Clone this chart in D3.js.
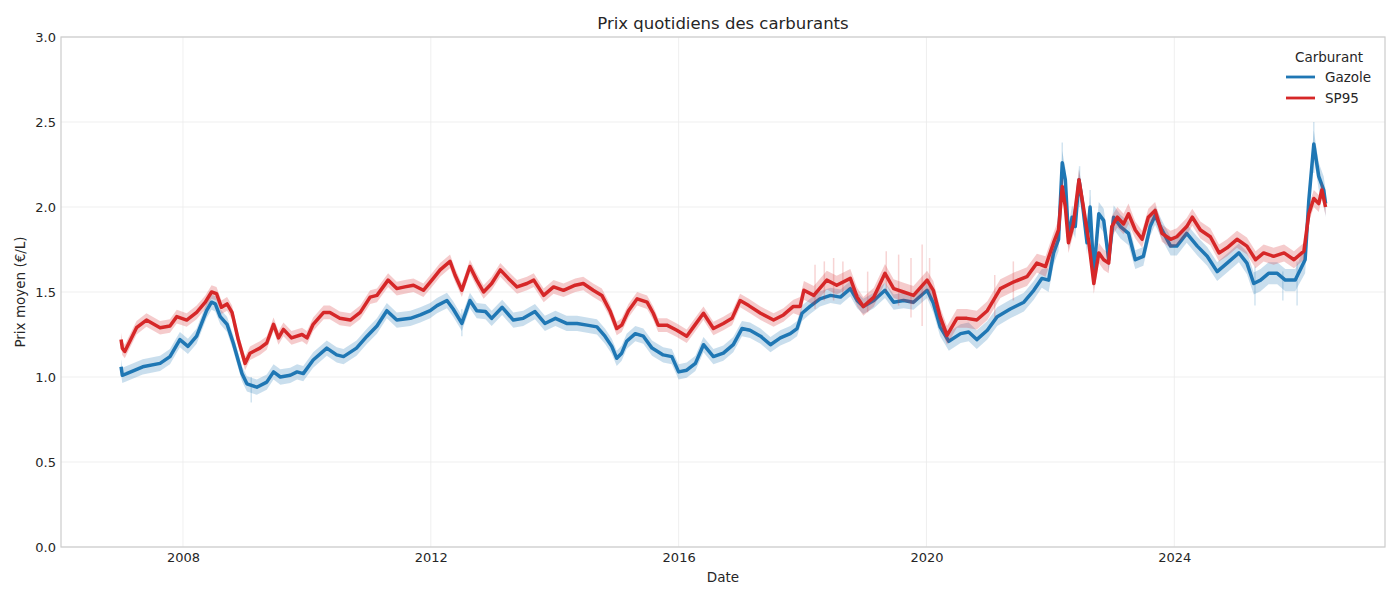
<!DOCTYPE html>
<html>
<head>
<meta charset="utf-8">
<script src="https://cdn.jsdelivr.net/npm/d3@7"></script>
<style>
  body { margin: 0; background: #fff; }
  svg { font-family: "DejaVu Sans", sans-serif; }
</style>
</head>
<body>
<div id="chart"></div>
<script>
// dates in decimal years, prices in €/L
const gazole = [
  [2007.00, 1.06], [2007.02, 1.01], [2007.09, 1.02], [2007.35, 1.06], [2007.63, 1.08], [2007.79, 1.12],
  [2007.95, 1.22], [2008.08, 1.18], [2008.22, 1.24], [2008.38, 1.39], [2008.46, 1.44], [2008.52, 1.43],
  [2008.60, 1.355], [2008.71, 1.31], [2008.81, 1.20], [2008.95, 1.02], [2009.03, 0.96], [2009.19, 0.94],
  [2009.35, 0.97], [2009.46, 1.03], [2009.57, 1.00], [2009.73, 1.01], [2009.84, 1.03], [2009.94, 1.02],
  [2010.10, 1.10], [2010.32, 1.17], [2010.48, 1.13], [2010.59, 1.12], [2010.80, 1.17], [2010.97, 1.24],
  [2011.13, 1.30], [2011.29, 1.39], [2011.45, 1.335], [2011.67, 1.345], [2011.83, 1.365], [2011.99, 1.39],
  [2012.10, 1.42], [2012.26, 1.45], [2012.36, 1.40], [2012.50, 1.315], [2012.63, 1.45], [2012.74, 1.39],
  [2012.88, 1.385], [2012.98, 1.345], [2013.15, 1.41], [2013.33, 1.335], [2013.49, 1.345], [2013.68, 1.385],
  [2013.84, 1.315], [2014.01, 1.345], [2014.19, 1.315], [2014.36, 1.315], [2014.52, 1.305], [2014.68, 1.295],
  [2014.81, 1.24], [2014.92, 1.18], [2015.00, 1.11], [2015.08, 1.14], [2015.16, 1.21], [2015.30, 1.255],
  [2015.43, 1.24], [2015.57, 1.17], [2015.75, 1.13], [2015.89, 1.12], [2016.00, 1.03], [2016.13, 1.04],
  [2016.27, 1.08], [2016.40, 1.19], [2016.56, 1.12], [2016.72, 1.14], [2016.88, 1.19], [2017.02, 1.285],
  [2017.15, 1.275], [2017.32, 1.24], [2017.48, 1.19], [2017.64, 1.23], [2017.80, 1.255], [2017.91, 1.285],
  [2017.99, 1.375], [2018.12, 1.415], [2018.28, 1.46], [2018.45, 1.48], [2018.61, 1.47], [2018.77, 1.52],
  [2018.88, 1.45], [2018.98, 1.415], [2019.15, 1.45], [2019.33, 1.51], [2019.47, 1.44], [2019.63, 1.45],
  [2019.79, 1.44], [2020.01, 1.51], [2020.11, 1.435], [2020.22, 1.295], [2020.36, 1.21], [2020.55, 1.255],
  [2020.68, 1.265], [2020.81, 1.22], [2020.98, 1.275], [2021.14, 1.355], [2021.35, 1.40], [2021.57, 1.44],
  [2021.73, 1.51], [2021.86, 1.58], [2021.97, 1.57], [2022.05, 1.73], [2022.13, 1.81], [2022.19, 2.26],
  [2022.24, 2.16], [2022.29, 1.825], [2022.35, 1.94], [2022.40, 1.885], [2022.46, 2.16], [2022.51, 2.04],
  [2022.59, 1.79], [2022.64, 2.00], [2022.70, 1.61], [2022.78, 1.96], [2022.86, 1.92], [2022.94, 1.69],
  [2023.02, 1.94], [2023.13, 1.885], [2023.26, 1.845], [2023.37, 1.69], [2023.50, 1.71], [2023.61, 1.885],
  [2023.69, 1.95], [2023.80, 1.865], [2023.94, 1.77], [2024.04, 1.77], [2024.20, 1.845], [2024.37, 1.77],
  [2024.53, 1.71], [2024.69, 1.62], [2024.85, 1.67], [2025.04, 1.73], [2025.17, 1.67], [2025.28, 1.55],
  [2025.39, 1.57], [2025.52, 1.61], [2025.66, 1.61], [2025.79, 1.57], [2025.95, 1.57], [2026.11, 1.69],
  [2026.17, 2.04], [2026.25, 2.37], [2026.33, 2.18], [2026.41, 2.10], [2026.44, 2.02]
];

const sp95 = [
  [2007.00, 1.22], [2007.02, 1.17], [2007.06, 1.15], [2007.25, 1.29], [2007.41, 1.335], [2007.63, 1.29],
  [2007.79, 1.30], [2007.90, 1.355], [2008.06, 1.335], [2008.22, 1.38], [2008.36, 1.44], [2008.46, 1.50],
  [2008.54, 1.49], [2008.62, 1.41], [2008.71, 1.43], [2008.79, 1.38], [2008.89, 1.22], [2009.00, 1.08],
  [2009.08, 1.14], [2009.24, 1.17], [2009.35, 1.20], [2009.46, 1.31], [2009.54, 1.23], [2009.62, 1.28],
  [2009.75, 1.23], [2009.92, 1.25], [2010.00, 1.23], [2010.10, 1.31], [2010.27, 1.38], [2010.37, 1.38],
  [2010.53, 1.345], [2010.70, 1.335], [2010.86, 1.38], [2011.02, 1.47], [2011.13, 1.48], [2011.31, 1.57],
  [2011.45, 1.52], [2011.58, 1.53], [2011.72, 1.54], [2011.88, 1.51], [2012.04, 1.58], [2012.15, 1.63],
  [2012.31, 1.68], [2012.39, 1.60], [2012.50, 1.51], [2012.63, 1.65], [2012.74, 1.57], [2012.85, 1.50],
  [2012.98, 1.55], [2013.12, 1.63], [2013.25, 1.58], [2013.39, 1.53], [2013.55, 1.55], [2013.66, 1.57],
  [2013.82, 1.48], [2013.98, 1.53], [2014.14, 1.51], [2014.33, 1.54], [2014.46, 1.55], [2014.62, 1.51],
  [2014.76, 1.48], [2014.89, 1.39], [2015.00, 1.285], [2015.08, 1.305], [2015.19, 1.39], [2015.33, 1.46],
  [2015.49, 1.44], [2015.59, 1.375], [2015.67, 1.305], [2015.81, 1.305], [2015.97, 1.275], [2016.13, 1.24],
  [2016.24, 1.295], [2016.40, 1.375], [2016.56, 1.285], [2016.72, 1.315], [2016.86, 1.345], [2016.99, 1.45],
  [2017.13, 1.42], [2017.32, 1.375], [2017.53, 1.335], [2017.69, 1.365], [2017.85, 1.415], [2017.96, 1.415],
  [2018.02, 1.51], [2018.18, 1.48], [2018.39, 1.57], [2018.55, 1.54], [2018.77, 1.58], [2018.88, 1.47],
  [2018.98, 1.415], [2019.15, 1.47], [2019.33, 1.61], [2019.47, 1.52], [2019.63, 1.50], [2019.79, 1.48],
  [2020.01, 1.57], [2020.11, 1.51], [2020.22, 1.355], [2020.33, 1.245], [2020.49, 1.345], [2020.65, 1.345],
  [2020.81, 1.335], [2020.98, 1.39], [2021.19, 1.52], [2021.41, 1.56], [2021.62, 1.59], [2021.78, 1.67],
  [2021.92, 1.65], [2022.05, 1.79], [2022.13, 1.865], [2022.19, 2.12], [2022.24, 2.00], [2022.29, 1.79],
  [2022.37, 1.90], [2022.46, 2.16], [2022.54, 1.98], [2022.62, 1.79], [2022.70, 1.55], [2022.78, 1.73],
  [2022.86, 1.69], [2022.94, 1.67], [2022.99, 1.885], [2023.08, 1.94], [2023.18, 1.90], [2023.26, 1.96],
  [2023.37, 1.865], [2023.48, 1.81], [2023.58, 1.94], [2023.69, 1.98], [2023.80, 1.845], [2023.94, 1.81],
  [2024.04, 1.825], [2024.20, 1.885], [2024.29, 1.94], [2024.42, 1.865], [2024.58, 1.825], [2024.72, 1.73],
  [2024.85, 1.76], [2025.01, 1.81], [2025.17, 1.77], [2025.31, 1.69], [2025.44, 1.73], [2025.60, 1.71],
  [2025.77, 1.73], [2025.93, 1.69], [2026.09, 1.74], [2026.17, 1.96], [2026.25, 2.05], [2026.33, 2.02],
  [2026.38, 2.10], [2026.44, 2.00]
];

// half-width of the shaded band, from a given year on
const gazoleSpread = [[2007, 0.045], [2020.1, 0.055], [2021.9, 0.07], [2023.3, 0.055], [2025.1, 0.065], [2026.1, 0.08]];
const sp95Spread = [[2007, 0.04], [2017.9, 0.055], [2021.9, 0.06], [2023.3, 0.05]];

// isolated daily extremes (year, low, high)
const gazoleSpikes = [
  [2009.10, 0.85, 1.00], [2012.50, 1.24, 1.40], [2022.19, 2.10, 2.38], [2022.47, 2.00, 2.24],
  [2022.64, 1.85, 2.10], [2025.30, 1.42, 1.65], [2025.75, 1.45, 1.62], [2025.98, 1.42, 1.68], [2026.25, 2.20, 2.50]
];
const sp95Spikes = [
  [2018.20, 1.40, 1.66], [2018.35, 1.45, 1.68], [2018.50, 1.45, 1.70], [2018.65, 1.48, 1.68],
  [2019.05, 1.38, 1.62], [2019.35, 1.50, 1.74], [2019.55, 1.42, 1.72], [2019.75, 1.35, 1.70],
  [2019.93, 1.30, 1.78], [2020.05, 1.45, 1.70], [2021.10, 1.35, 1.60], [2021.40, 1.45, 1.68]
];

const yTicks = [0, 0.5, 1.0, 1.5, 2.0, 2.5, 3.0];
const xTicks = [2008, 2012, 2016, 2020, 2024];

const series = [
  { name: "Gazole", data: gazole, spread: gazoleSpread, spikes: gazoleSpikes, color: "#1f77b4" },
  { name: "SP95", data: sp95, spread: sp95Spread, spikes: sp95Spikes, color: "#d62728" }
];

function toDate(y) {
  const yr = Math.floor(y);
  const a = Date.UTC(yr, 0, 1), b = Date.UTC(yr + 1, 0, 1);
  return new Date(a + (y - yr) * (b - a));
}
function spreadAt(steps, t) {
  let s = steps[0][1];
  steps.forEach(d => { if (t >= d[0]) s = d[1]; });
  return s;
}

const W = 1400, H = 600;
const margin = { top: 37, right: 15, bottom: 53, left: 61 };
const width = W - margin.left - margin.right;
const height = H - margin.top - margin.bottom;

const svg = d3.select("#chart").append("svg")
  .attr("width", W)
  .attr("height", H);

const g = svg.append("g")
  .attr("transform", "translate(" + margin.left + "," + margin.top + ")");

const x = d3.scaleUtc()
  .domain([toDate(2006.03), toDate(2027.4)])
  .range([0, width]);

const y = d3.scaleLinear()
  .domain([0, 3])
  .range([height, 0]);

// grid
g.append("g").selectAll("line")
  .data(yTicks).enter().append("line")
  .attr("x1", 0).attr("x2", width)
  .attr("y1", d => y(d)).attr("y2", d => y(d))
  .attr("stroke", "#ebebeb").attr("stroke-width", 0.8);

g.append("g").selectAll("line")
  .data(xTicks).enter().append("line")
  .attr("x1", d => x(toDate(d))).attr("x2", d => x(toDate(d)))
  .attr("y1", 0).attr("y2", height)
  .attr("stroke", "#ebebeb").attr("stroke-width", 0.8);

const area = d3.area()
  .x(d => x(toDate(d[0])))
  .y0(d => y(d[1] - d[2]))
  .y1(d => y(d[1] + d[2]));

const line = d3.line()
  .x(d => x(toDate(d[0])))
  .y(d => y(d[1]));

series.forEach(s => {
  const banded = s.data.map(d => [d[0], d[1], spreadAt(s.spread, d[0])]);

  g.append("path")
    .datum(banded)
    .attr("d", area)
    .attr("fill", s.color)
    .attr("fill-opacity", 0.24);

  g.append("g").selectAll("line")
    .data(s.spikes).enter().append("line")
    .attr("x1", d => x(toDate(d[0]))).attr("x2", d => x(toDate(d[0])))
    .attr("y1", d => y(d[1])).attr("y2", d => y(d[2]))
    .attr("stroke", s.color)
    .attr("stroke-opacity", 0.2)
    .attr("stroke-width", 1.5);

  g.append("path")
    .datum(s.data)
    .attr("d", line)
    .attr("fill", "none")
    .attr("stroke", s.color)
    .attr("stroke-width", 3.5)
    .attr("stroke-linejoin", "round");
});

// axes
const yAxis = g.append("g")
  .call(d3.axisLeft(y).tickValues(yTicks).tickFormat(d3.format(".1f")).tickSize(0).tickPadding(5));
const xAxis = g.append("g")
  .attr("transform", "translate(0," + height + ")")
  .call(d3.axisBottom(x).tickValues(xTicks.map(toDate)).tickFormat(d3.utcFormat("%Y")).tickSize(0).tickPadding(6));

[xAxis, yAxis].forEach(a => {
  a.select(".domain").remove();
  a.selectAll("text").attr("fill", "#262626").style("font-size", "13px").style("font-family", "DejaVu Sans");
});

g.append("rect")
  .attr("width", width).attr("height", height)
  .attr("fill", "none").attr("stroke", "#cccccc").attr("stroke-width", 1.2);

// title and axis labels
svg.append("text")
  .attr("x", margin.left + width / 2).attr("y", 29)
  .attr("text-anchor", "middle")
  .attr("fill", "#262626")
  .style("font-size", "16.5px")
  .text("Prix quotidiens des carburants");

svg.append("text")
  .attr("x", margin.left + width / 2).attr("y", 582)
  .attr("text-anchor", "middle")
  .attr("fill", "#262626")
  .style("font-size", "13.5px")
  .text("Date");

svg.append("text")
  .attr("transform", "translate(25," + (margin.top + height / 2) + ") rotate(-90)")
  .attr("text-anchor", "middle")
  .attr("fill", "#262626")
  .style("font-size", "13.5px")
  .text("Prix moyen (€/L)");

// legend
const legX = 1286, legY = 77;
svg.append("text")
  .attr("x", 1329).attr("y", legY - 15)
  .attr("text-anchor", "middle")
  .attr("fill", "#262626")
  .style("font-size", "13.5px")
  .text("Carburant");

series.forEach((s, i) => {
  svg.append("line")
    .attr("x1", legX).attr("x2", legX + 29)
    .attr("y1", legY + i * 21).attr("y2", legY + i * 21)
    .attr("stroke", s.color).attr("stroke-width", 2.8);
  svg.append("text")
    .attr("x", legX + 39).attr("y", legY + i * 21 + 5)
    .attr("fill", "#262626")
    .style("font-size", "13.5px")
    .text(s.name);
});
</script>
</body>
</html>
